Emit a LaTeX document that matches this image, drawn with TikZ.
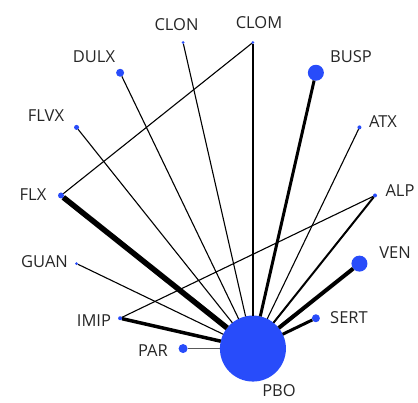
\documentclass[tikz,border=0pt]{standalone}
\usepackage{fontspec}
\setmainfont{Open Sans}
\usetikzlibrary{
graphs,
calc,
}
\definecolor{dotblue}{RGB}{40,76,250}
\tikzset{
x=1pt, y=1pt,
dot/.style={circle, fill=dotblue, inner sep=0pt, outer sep=0pt},
drug/.style={font=\fontsize{16.5}{19}\selectfont, inner sep=0pt, text=black!85},
w1/.style={line width=1.1pt},
w2/.style={line width=2pt},
w3/.style={line width=3pt},
w4/.style={line width=4pt},
w5/.style={line width=5.5pt},
}
\begin{document}
\begin{tikzpicture}
\useasboundingbox (0,0) rectangle (418,402);
\coordinate (c) at (218,206.5);
% treatments round the circle, alphabetical, counter-clockwise
\node (ALP)  [dot, minimum size=4pt]  at ([shift={(0:157pt)}]c) {};
\node (ATX)  [dot, minimum size=4pt]  at ([shift={(25.714:157pt)}]c) {};
\node (BUSP) [dot, minimum size=16pt] at ([shift={(51.429:157pt)}]c) {};
\node (CLOM) [dot, minimum size=3pt]  at ([shift={(77.143:157pt)}]c) {};
\node (CLON) [dot, minimum size=3pt]  at ([shift={(102.857:157pt)}]c) {};
\node (DULX) [dot, minimum size=8pt]  at ([shift={(128.571:157pt)}]c) {};
\node (FLVX) [dot, minimum size=5pt]  at ([shift={(154.286:157pt)}]c) {};
\node (FLX)  [dot, minimum size=6pt]  at ([shift={(180:157pt)}]c) {};
\node (GUAN) [dot, minimum size=3pt]  at ([shift={(205.714:157pt)}]c) {};
\node (IMIP) [dot, minimum size=4pt]  at ([shift={(231.429:157pt)}]c) {};
\node (PAR)  [dot, minimum size=9pt]  at ([shift={(257.143:157pt)}]c) {};
\node (PBO)  [dot, minimum size=66pt] at ([shift={(282.857:157pt)}]c) {};
\node (SERT) [dot, minimum size=8pt]  at ([shift={(308.571:157pt)}]c) {};
\node (VEN)  [dot, minimum size=16pt] at ([shift={(334.286:157pt)}]c) {};
% names
\node (lALP)  [drug] at (400,211) {ALP};
\node (lATX)  [drug] at (383,280.5) {ATX};
\node (lBUSP) [drug] at (351,345.5) {BUSP};
\node (lCLOM) [drug] at (259,379) {CLOM};
\node (lCLON) [drug] at (176.5,377.5) {CLON};
\node (lDULX) [drug] at (94,345.5) {DULX};
\node (lFLVX) [drug] at (46,286.5) {FLVX};
\node (lFLX)  [drug] at (33,207.5) {FLX};
\node (lGUAN) [drug] at (44.5,140.5) {GUAN};
\node (lIMIP) [drug] at (94,81) {IMIP};
\node (lPAR)  [drug] at (153,51.5) {PAR};
\node (lPBO)  [drug] at (279,11) {PBO};
\node (lSERT) [drug] at (349,84) {SERT};
\node (lVEN)  [drug] at (395,149.5) {VEN};
\graph [use existing nodes] {
    PBO --[w1] {CLON, DULX, FLVX, GUAN, ATX};
    PBO --[w2] ALP;
    PBO --[line width=2.5pt] CLOM;
    PBO --[w3] {BUSP, SERT};
    PBO --[line width=3.5pt] IMIP;
    PBO --[w4] VEN;
    PBO --[w5] FLX;
    PBO --[line width=1pt, black!65] PAR;
    CLOM --[w1] FLX;
    IMIP --[w1] ALP;
};
\end{tikzpicture}
\end{document}
